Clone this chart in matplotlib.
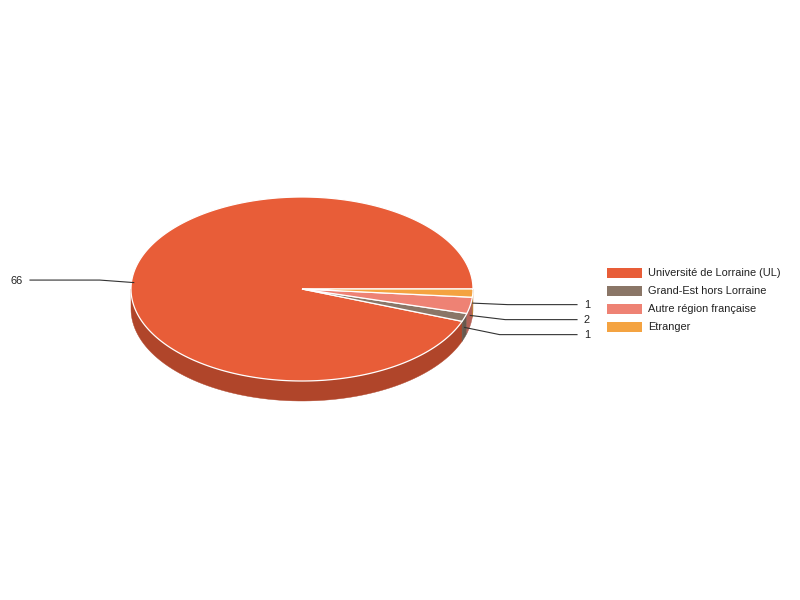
import numpy as np
import matplotlib
matplotlib.use("Agg")
from matplotlib import pyplot as plt
from matplotlib.patches import Polygon, Rectangle

plt.rcParams['font.family'] = ['Liberation Sans', 'DejaVu Sans']

categories = ['Université de Lorraine (UL)', 'Grand-Est hors Lorraine',
              'Autre région française', 'Etranger']
values = [66, 1, 2, 1]
colors = ['#e85d38', '#8a7667', '#ee8274', '#f4a341']
side_colors = ['#b0452a', '#68594e', '#b46257', '#b97b31']

# layout (pixels)
cx, cy, rx, ry, depth = 302, 289, 171, 92, 20

fig = plt.figure(figsize=(8, 6), dpi=100)
ax = fig.add_axes([0, 0, 1, 1])
ax.set_xlim(0, 800)
ax.set_ylim(600, 0)
ax.axis('off')

# slice angles, counter-clockwise from east (screen angle grows clockwise)
frac = np.array(values) / sum(values) * 360
ends = -np.cumsum(frac)
starts = ends + frac


def pt(t, dy=0.0):
    r = np.radians(t)
    return cx + rx * np.cos(r), cy + ry * np.sin(r) + dy


# side walls (front half only: screen angles 0..180)
for s, e, c in zip(starts, ends, side_colors):
    lo, hi = e % 360, s % 360
    if hi == 0:
        hi = 360
    a, b = max(lo, 0), min(hi, 180)
    if lo > hi:
        a, b = 0, min(hi, 180)
    if b <= a:
        continue
    t = np.linspace(a, b, 80)
    top = [pt(v) for v in t]
    bot = [pt(v, depth) for v in t[::-1]]
    ax.add_patch(Polygon(top + bot, closed=True, facecolor=c,
                         edgecolor=c, lw=0.3, zorder=1))

# top faces
for s, e, c in zip(starts, ends, colors):
    t = np.linspace(s, e, 300)
    poly = [(cx, cy)] + [pt(v) for v in t]
    ax.add_patch(Polygon(poly, closed=True, facecolor=c,
                         edgecolor='white', lw=0.9, zorder=2))

# labels with leader lines
mids = (starts + ends) / 2
anchors = [pt(m, depth / 2) for m in mids]
right = [i for i in range(len(values)) if anchors[i][0] > cx]
left = [i for i in range(len(values)) if anchors[i][0] <= cx]

label_y = {}
order = sorted(right, key=lambda i: anchors[i][1])
prev = -1e9
for i in order:
    y = max(anchors[i][1] + 1.5, prev + 15)
    label_y[i] = y
    prev = y
for i in left:
    label_y[i] = anchors[i][1] - 2.5

for i in range(len(values)):
    ax0, ay0 = anchors[i]
    ly = label_y[i]
    if i in right:
        ex, endx = ax0 + 35, 577
        ax.plot([ax0, ex, endx], [ay0, ly, ly], color='#333333', lw=0.8, zorder=3)
        ax.text(584, ly + 0.5, str(values[i]), fontsize=7.9, va='center', ha='left', color='#222222')
    else:
        ex, endx = ax0 - 34, 30
        ax.plot([ax0, ex, endx], [ay0, ly, ly], color='#333333', lw=0.8, zorder=3)
        ax.text(23, ly + 0.5, str(values[i]), fontsize=7.9, va='center', ha='right', color='#222222')

# legend
for i, (name, c) in enumerate(zip(categories, colors)):
    y = 273 + i * 17.9
    ax.add_patch(Rectangle((607, y - 5), 35, 10, facecolor=c, edgecolor='none'))
    ax.text(648, y + 0.5, name, fontsize=7.9, va='center', ha='left', color='#222222')

fig.savefig('out.png', dpi=100)
